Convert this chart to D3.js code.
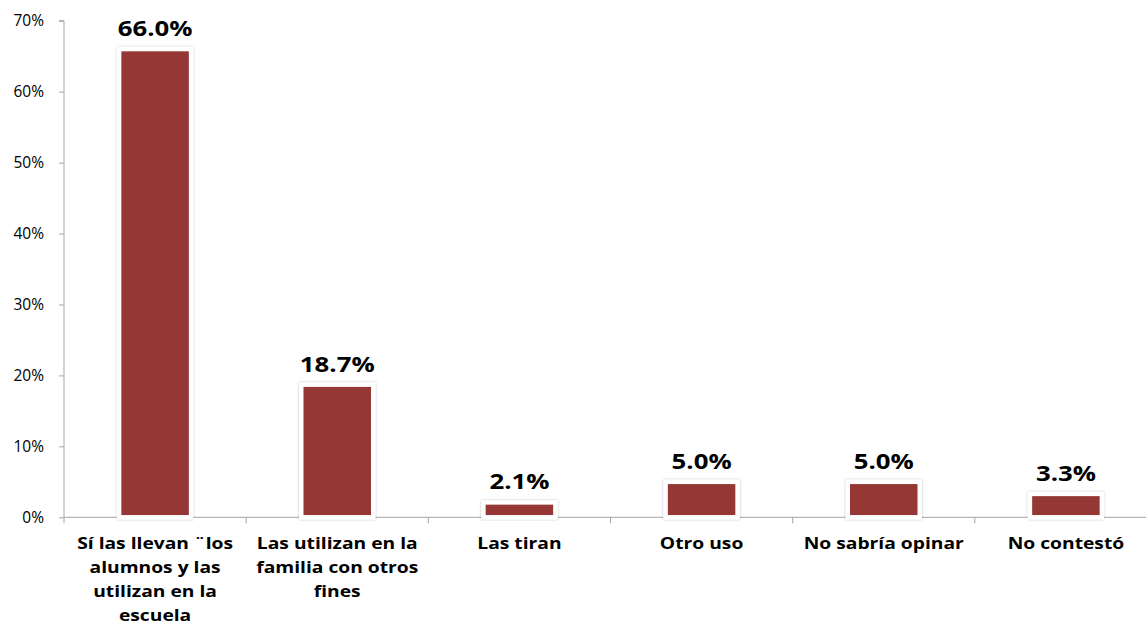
<!DOCTYPE html>
<html><head><meta charset="utf-8">
<script src="https://cdn.jsdelivr.net/npm/d3@7"></script>
<style>body{margin:0;background:#fff}svg{display:block}</style>
</head><body>
<svg id="c" width="1146" height="621"></svg>
<script>
const categories = ["Sí las llevan ¨los alumnos y las utilizan en la escuela","Las utilizan en la familia con otros fines","Las tiran","Otro uso","No sabría opinar","No contestó"];
const categoryLines = [["Sí las llevan ¨los","alumnos y las","utilizan en la","escuela"],["Las utilizan en la","familia con otros","fines"],["Las tiran"],["Otro uso"],["No sabría opinar"],["No contestó"]];
const values = [66.0, 18.7, 2.1, 5.0, 5.0, 3.3];
const valueLabels = ["66.0%","18.7%","2.1%","5.0%","5.0%","3.3%"];
const yTicks = [0,10,20,30,40,50,60,70];

const svg = d3.select("#c");
const mLeft = 64, mRight = 1157, mTop = 20.7, mBottom = 517.3;
const x = d3.scaleBand().domain(categories).range([mLeft, mRight]).paddingInner(0).paddingOuter(0);
const y = d3.scaleLinear().domain([0,70]).range([mBottom, mTop]);
const cx = c => x(c) + x.bandwidth()/2;

const defs = svg.append("defs");
const f = defs.append("filter").attr("id","sh").attr("x","-20%").attr("y","-20%").attr("width","140%").attr("height","140%");
f.append("feGaussianBlur").attr("in","SourceAlpha").attr("stdDeviation",1.2).attr("result","b");
f.append("feComponentTransfer").attr("in","b").attr("result","b2").append("feFuncA").attr("type","linear").attr("slope",0.3);
const m = f.append("feMerge"); m.append("feMergeNode").attr("in","b2"); m.append("feMergeNode").attr("in","SourceGraphic");

// y axis
const yAxis = svg.append("g").attr("transform",`translate(${mLeft},0)`)
  .call(d3.axisLeft(y).tickValues(yTicks).tickFormat(d=>d+"%").tickSize(5).tickPadding(15));
yAxis.select(".domain").attr("stroke","#a6a6a6").attr("d",`M-5,${mTop}H0V${mBottom}`);
yAxis.selectAll(".tick line").attr("stroke","#a6a6a6");
yAxis.selectAll(".tick text").attr("font-family","Open Sans").attr("font-size","15.5px").attr("fill","#000");

// x axis
const bounds = categories.map(c=>x(c)).concat([mRight]);
const xg = svg.append("g");
xg.append("line").attr("x1",mLeft).attr("x2",mRight).attr("y1",mBottom).attr("y2",mBottom).attr("stroke","#a6a6a6");
xg.selectAll("line.t").data(bounds).enter().append("line").attr("class","t")
  .attr("x1",d=>d).attr("x2",d=>d).attr("y1",mBottom).attr("y2",mBottom+6).attr("stroke","#a6a6a6");

// bars
const bw = 72;
svg.append("g").selectAll("rect").data(values).enter().append("rect")
  .attr("x",(d,i)=>cx(categories[i])-bw/2)
  .attr("y",d=>y(d))
  .attr("width",bw)
  .attr("height",d=>mBottom-y(d))
  .attr("fill","#953735").attr("stroke","#fff").attr("stroke-width",4.5)
  .attr("filter","url(#sh)");

// value labels
svg.append("g").selectAll("text").data(values).enter().append("text")
  .attr("transform",(d,i)=>`translate(${cx(categories[i])},${y(d)-13}) scale(1.2,1)`)
  .attr("text-anchor","middle").attr("font-family","Open Sans").attr("font-weight","bold")
  .attr("font-size","21.5px").attr("fill","#000")
  .text((d,i)=>valueLabels[i]);

// category labels
const cl = svg.append("g").selectAll("text").data(categories).enter().append("text")
  .attr("transform",d=>`translate(${cx(d)},548.5) scale(1.25,1)`)
  .attr("text-anchor","middle").attr("font-family","Open Sans").attr("font-weight","bold")
  .attr("font-size","15.4px").attr("fill","#000");
cl.each(function(d,i){
  const t = d3.select(this);
  categoryLines[i].forEach((ln,j)=>{
    t.append("tspan").attr("x",0).attr("dy",j===0?0:24.3).text(ln);
  });
});
</script>
</body></html>
